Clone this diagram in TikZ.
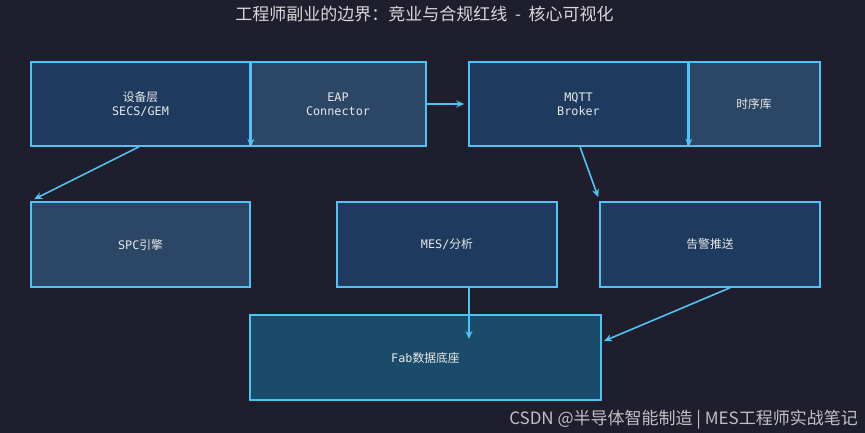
\documentclass[tikz,border=0pt]{standalone}
\usepackage{fontspec}
\usetikzlibrary{arrows.meta}
\setmainfont{DejaVu Sans Mono}
\newfontfamily\cjk{Noto Sans CJK SC}
\definecolor{bgc}{HTML}{1E1E2D}
\definecolor{deep}{HTML}{1E3A5F}
\definecolor{mid}{HTML}{2C4666}
\definecolor{fabc}{HTML}{1A4B6B}
\definecolor{edge}{HTML}{4FC3F7}
\definecolor{txt}{HTML}{E8E8E8}
\begin{document}
\begin{tikzpicture}[x=1pt,y=-1pt,
    box/.style={draw=edge,line width=1.6pt,text=txt,inner sep=0pt,align=center,
      minimum height=84pt,font=\fontsize{11.8}{14}\selectfont},
    flow/.style={draw=edge,line width=1.6pt,-{Stealth[length=8pt,width=7pt]}}]
    \fill[bgc] (0,0) rectangle (865,433);
    \node[text=txt!92!bgc,font=\cjk\fontsize{17}{19}\selectfont] (title) at (424.5,14) {工程师副业的边界：竞业与合规红线\ \ -\ \ 核心可视化};

    \node[box,fill=deep,minimum width=219pt] (dev) at (140.5,104) {{\cjk 设备层}\\SECS/GEM};
    \node[box,fill=mid,minimum width=176pt] (eap) at (338,104) {EAP\\Connector};
    \node[box,fill=deep,minimum width=219pt] (mqtt) at (578.5,104) {MQTT\\Broker};
    \node[box,fill=mid,minimum width=132pt] (tsdb) at (754,104) {\cjk 时序库};
    \node[box,fill=mid,minimum width=219pt,minimum height=85pt] (spc) at (140.5,244.5) {SPC{\cjk 引擎}};
    \node[box,fill=deep,minimum width=220pt,minimum height=85pt] (mes) at (447,244.5) {MES/{\cjk 分析}};
    \node[box,fill=deep,minimum width=220pt,minimum height=85pt] (alarm) at (710,244.5) {\cjk 告警推送};
    \node[box,fill=fabc,minimum width=351pt,minimum height=85pt] (fab) at (425.5,357.5) {Fab{\cjk 数据底座}};

    \coordinate (fabin) at (469,339);
    \coordinate (fabside) at (604,341);
    \draw[flow] (dev.north east) -- (dev.south east);
    \draw[flow] (mqtt.north east) -- (mqtt.south east);
    \draw[flow] (eap.east) -- ([xshift=-4pt]mqtt.west);
    \draw[flow] ([xshift=-1.5pt]dev.south) -- ([xshift=4pt,yshift=2pt]spc.north west);
    \draw[flow] ([xshift=1.5pt]mqtt.south) -- ([xshift=-1pt,yshift=4pt]alarm.north west);
    \draw[flow] (mes.south -| fabin) -- (fabin);
    \draw[flow] ([xshift=20pt]alarm.south) -- (fabside);

    \node[anchor=base east,text=txt!80!bgc,font=\cjk\fontsize{17}{19}\selectfont,inner sep=0pt] (mark) at (858,424) {CSDN @半导体智能制造 | MES工程师实战笔记};
\end{tikzpicture}
\end{document}
